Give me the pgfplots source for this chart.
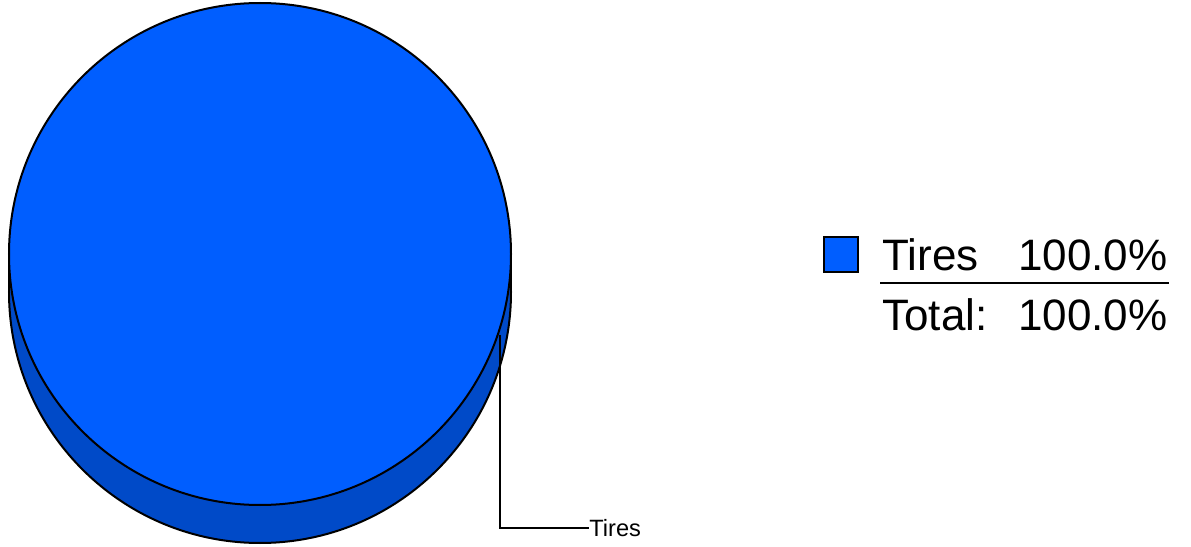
\documentclass[border=0pt]{standalone}
\usepackage{pgfplots}
\pgfplotsset{compat=1.18}
\usepackage{pgfplotstable}
\usepackage{fontspec}
\setmainfont{Liberation Sans}

\definecolor{pietop}{RGB}{0,94,255}
\definecolor{pieside}{RGB}{0,74,200}

% one slice only
\pgfplotstableread{
name value
Tires 100.0
}\piedata
\pgfplotstablegetelem{0}{value}\of\piedata
\let\tiresval\pgfplotsretval

\begin{document}
\begin{tikzpicture}
\begin{axis}[
    width=595.5pt, height=273.5pt,
    scale only axis,
    xmin=0, xmax=1191,
    ymin=0, ymax=547,
    hide axis,
    clip=false,
]
    % pie geometry (pixels, y up): centre, radii, depth
    \def\cx{260}\def\cy{293}\def\rx{251}\def\ry{251}\def\dz{38}
    % side (bottom ellipse + band)
    \filldraw[fill=pieside, draw=black, line width=1pt]
        (axis cs:\cx,\cy-\dz) ellipse [x radius=\rx, y radius=\ry];
    \fill[pieside] (axis cs:\cx-\rx,\cy-\dz) rectangle (axis cs:\cx+\rx,\cy);
    \draw[line width=1pt] (axis cs:\cx-\rx,\cy) -- (axis cs:\cx-\rx,\cy-\dz);
    \draw[line width=1pt] (axis cs:\cx+\rx,\cy) -- (axis cs:\cx+\rx,\cy-\dz);
    % top face
    \filldraw[fill=pietop, draw=black, line width=1pt]
        (axis cs:\cx,\cy) ellipse [x radius=\rx, y radius=\ry];

    % leader line and label
    \draw[line width=0.75pt] (axis cs:500,212) -- (axis cs:500,19) -- (axis cs:589,19);
    \node[anchor=base west, inner sep=0pt, font=\fontsize{11.8}{13}\selectfont]
        at (axis cs:589,10.5) {Tires};

    % legend
    \filldraw[fill=pietop, draw=black, line width=0.75pt]
        (axis cs:824,275) rectangle (axis cs:858,310);
    \node[anchor=base west, inner sep=0pt, font=\fontsize{22}{26}\selectfont]
        at (axis cs:882,277) {Tires};
    \node[anchor=base east, inner sep=0pt, font=\fontsize{22}{26}\selectfont]
        at (axis cs:1168,277) {\tiresval\%};
    \draw[line width=1pt] (axis cs:880,264) -- (axis cs:1169,264);
    \node[anchor=base west, inner sep=0pt, font=\fontsize{22}{26}\selectfont]
        at (axis cs:882,217) {Total:};
    \node[anchor=base east, inner sep=0pt, font=\fontsize{22}{26}\selectfont]
        at (axis cs:1168,217) {100.0\%};
\end{axis}
\pgfresetboundingbox
\path (current axis.south west) rectangle (current axis.north east);
\end{tikzpicture}
\end{document}
